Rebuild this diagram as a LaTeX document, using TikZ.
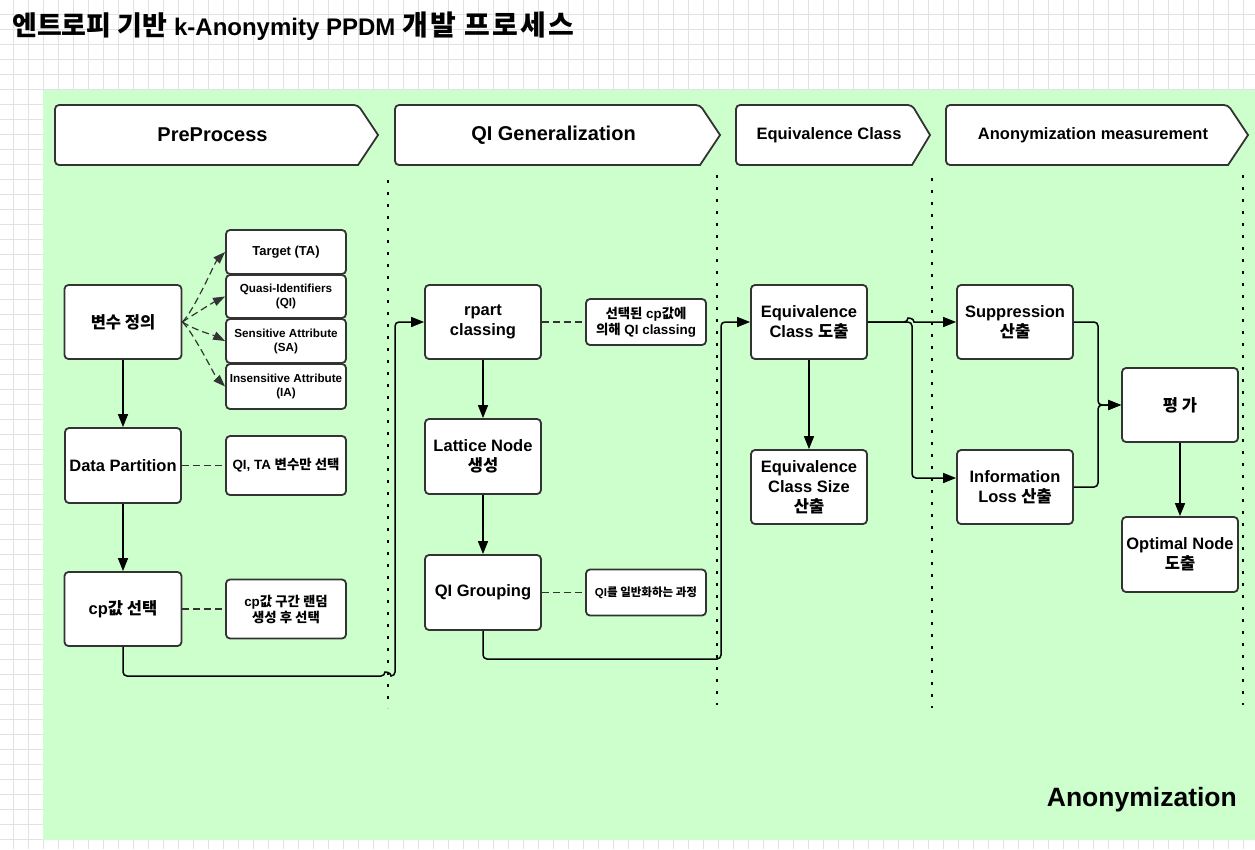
\documentclass[tikz,border=0pt]{standalone}
\usepackage{fontspec}
\setmainfont{Liberation Sans}
\newfontfamily\kr{Noto Sans CJK KR}
\usetikzlibrary{arrows.meta}

\definecolor{gridc}{HTML}{E2E2E2}
\definecolor{zone}{HTML}{CCFFCC}
\definecolor{edge}{HTML}{333333}

% Korean runs inside mixed Latin text
\newcommand\K[1]{{\kr #1}}
\newcommand\fsz[2]{\fontsize{#1}{#2}\selectfont}
\newcommand\TK[1]{{\kr\fsz{27}{30}#1}}
\newcommand\TKwide[1]{{\kr\fsz{28}{30}\addfontfeature{LetterSpace=8}#1}}

\begin{document}
\begin{tikzpicture}[x=1pt,y=-1pt,
  box/.style={draw=edge, line width=1.8pt, fill=white, rounded corners=4pt,
    align=center, inner sep=1pt, font=\bfseries\fsz{16.5}{20}},
  note/.style={box, font=\bfseries\fsz{13.4}{16}},
  attr/.style={box, font=\bfseries\fsz{11.7}{14}},
  header/.style={draw=edge, line width=1.8pt, fill=white},
  link/.style={line width=1.5pt, rounded corners=4pt,
    -{Triangle[length=13pt,width=10pt]}},
  aside/.style={draw=edge, line width=1.2pt, dash pattern=on 7pt off 4pt},
  branch/.style={aside, -{Triangle[length=12pt,width=8.5pt]}},
  sep/.style={line width=2.8pt, dash pattern=on 2.8pt off 9.2pt}]

\useasboundingbox (0,0) rectangle (1255,849);
\fill[white] (0,0) rectangle (1255,849);

% background grid
\foreach \x in {13,28,...,1255} \draw[gridc, line width=0.8pt] (\x,0) -- (\x,849);
\foreach \y in {14,29,...,849} \draw[gridc, line width=0.8pt] (0,\y) -- (1255,\y);

% anonymization zone
\fill[zone] (43,90) rectangle (1255,840);

% title and zone label
\node[anchor=west, inner sep=0pt, font=\bfseries\fsz{24}{28}] (title) at (12,26)
  {\TK{엔트로피 기반} k-Anonymity PPDM \TKwide{개발 프로세스}};
\node[anchor=east, inner sep=0pt, font=\bfseries\fsz{26.5}{30}] (zonelabel) at (1237,800) {Anonymization};

% phase headers
\draw[header] (378,135) -- (358,165) [rounded corners=4pt] -- (55,165) -- (55,105) -- (358,105) [sharp corners] -- cycle;
\node[font=\bfseries\fsz{20}{24}] (h1) at (212.5,135) {PreProcess};
\draw[header] (720,135) -- (700,165) [rounded corners=4pt] -- (395,165) -- (395,105) -- (700,105) [sharp corners] -- cycle;
\node[font=\bfseries\fsz{20}{24}] (h2) at (553.5,135) {QI Generalization};
\draw[header] (930,135) -- (912,165) [rounded corners=4pt] -- (736,165) -- (736,105) -- (912,105) [sharp corners] -- cycle;
\node[font=\bfseries\fsz{16.5}{20}] (h3) at (829,135) {Equivalence Class};
\draw[header] (1248,135) -- (1228,165) [rounded corners=4pt] -- (946,165) -- (946,105) -- (1228,105) [sharp corners] -- cycle;
\node[font=\bfseries\fsz{16.5}{20}] (h4) at (1093,135) {Anonymization measurement};

% phase separators
\draw[sep] (388,180) -- (388,708);
\draw[sep] (717,175) -- (717,705);
\draw[sep] (932,178) -- (932,708);
\draw[sep] (1243,175) -- (1243,705);

% PreProcess
\node[box, minimum width=117, minimum height=74] (vd) at (123,322) {\K{변수 정의}};
\node[note, font=\bfseries\fsz{13}{16}, minimum width=120, minimum height=44] (ta) at (286,252) {Target (TA)};
\node[attr, minimum width=120, minimum height=43] (qi) at (286,296.5) {Quasi-Identifiers\\(QI)};
\node[attr, minimum width=120, minimum height=44] (sa) at (286,341) {Sensitive Attribute\\(SA)};
\node[attr, minimum width=120, minimum height=45] (ia) at (286,386.5) {Insensitive Attribute\\(IA)};
\node[box, minimum width=116, minimum height=75] (dp) at (123,465.5) {Data Partition};
\node[note, minimum width=120, minimum height=59] (dpn) at (286,465.5) {QI, TA \K{변수만 선택}};
\node[box, minimum width=117, minimum height=74] (cp) at (123,609) {cp\K{값 선택}};
\node[note, minimum width=120, minimum height=59] (cpn) at (286,609) {cp\K{값 구간 랜덤}\\\K{생성 후 선택}};

% QI Generalization
\node[box, minimum width=116, minimum height=74] (rp) at (483,322) {rpart\\classing};
\node[note, minimum width=120, minimum height=46] (rpn) at (646,322) {\K{선택된} cp\K{값에}\\\K{의해} QI classing};
\node[box, minimum width=116, minimum height=75] (ln) at (483,456.5) {Lattice Node\\\K{생성}};
\node[box, minimum width=116, minimum height=75] (qg) at (483,592.5) {QI Grouping};
\node[note, font=\bfseries\fsz{11.5}{14}, minimum width=120, minimum height=46] (qgn) at (646,592.5) {QI\K{를 일반화하는 과정}};

% Equivalence Class
\node[box, minimum width=116, minimum height=74] (ec) at (809,322) {Equivalence\\Class \K{도출}};
\node[box, minimum width=116, minimum height=74] (ecs) at (809,487) {Equivalence\\Class Size\\\K{산출}};

% Anonymization measurement
\node[box, minimum width=116, minimum height=74] (sp) at (1015,322) {Suppression\\\K{산출}};
\node[box, minimum width=116, minimum height=74] (il) at (1015,487) {Information\\Loss \K{산출}};
\node[box, minimum width=116, minimum height=74] (ev) at (1180,405) {\K{평 가}};
\node[box, minimum width=116, minimum height=75] (on) at (1180,554.5) {Optimal Node\\\K{도출}};

% attribute branches
\draw[branch] (vd.east) .. controls +(12,-12) and +(-10,10) .. (ta.west);
\draw[branch] (vd.east) .. controls +(12,-8) and +(-12,6) .. (qi.west);
\draw[branch] (vd.east) .. controls +(12,8) and +(-12,-6) .. (sa.west);
\draw[branch] (vd.east) .. controls +(12,12) and +(-10,-10) .. (ia.west);

% side notes
\draw[aside] (dp) -- (dpn);
\draw[aside] (cp) -- (cpn);
\draw[aside] (rp) -- (rpn);
\draw[aside] (qg) -- (qgn);

% main flow
\draw[link] (vd) -- (dp);
\draw[link] (dp) -- (cp);
\draw[link] (cp.south) |- (385,676) [sharp corners] .. controls (385,672) and (391,672) .. (391,676)
  [rounded corners=4pt] -- (395,676) |- (rp.west);
\draw[link] (rp) -- (ln);
\draw[link] (ln) -- (qg);
\draw[link] (qg.south) |- (721,659) |- (ec.west);
\draw[link] (ec) -- (ecs);
\draw[link] (ec.east) -- (908,322) [sharp corners] .. controls (908,318) and (914,318) .. (914,322) -- (sp.west);
\draw[link] (ec.east) -| (912,478) -- ([yshift=9pt]il.west);
\draw[link] (sp.east) -| (1098,405) -- (ev.west);
\draw[link] (il.east) -| (1098,405) -- (ev.west);
\draw[link] (ev) -- (on);
\end{tikzpicture}
\end{document}
